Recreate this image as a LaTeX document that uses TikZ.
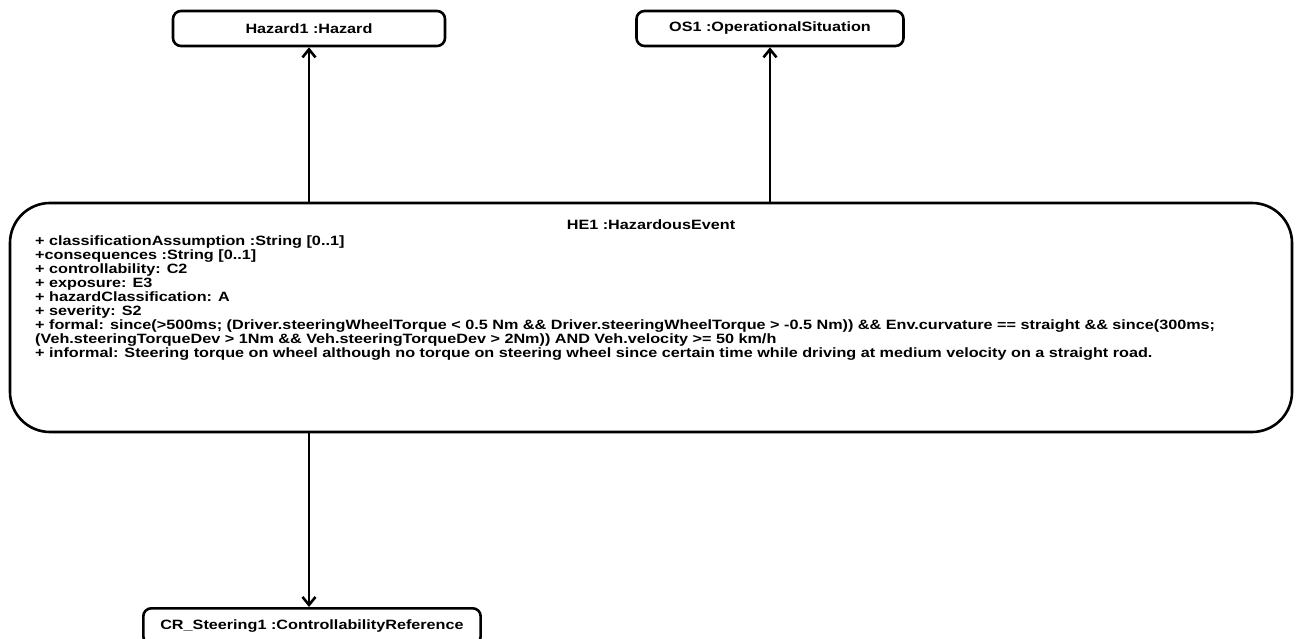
\documentclass[tikz,border=0pt]{standalone}
\usepackage{fontspec}
\setmainfont{Liberation Sans}[FakeStretch=1.2]
\usetikzlibrary{arrows.meta}
\begin{document}
\begin{tikzpicture}[x=1pt,y=-1pt,
  objbox/.style={draw=black,line width=2.6pt,rounded corners=8pt,fill=white,
    inner sep=0pt,font=\fontsize{13.5}{14}\selectfont\bfseries},
  link/.style={line width=2.6pt,-{Straight Barb[length=8pt,width=13pt,line width=2.6pt]}},
  attrs/.style={inner sep=0pt,align=left,anchor=north west,
    font=\fontsize{13.5}{14}\selectfont\bfseries}]
  \useasboundingbox (0,0) rectangle (1302,639);

  % object boxes
  \node[objbox,minimum width=272pt,minimum height=35pt] (haz) at (309,28.5) {Hazard1 :Hazard};
  \node[objbox,minimum width=267pt,minimum height=35pt] (os) at (770,28.5) {OS1 :OperationalSituation};
  \node[objbox,rounded corners=40pt,minimum width=1282pt,minimum height=229pt] (he) at (651,317.5) {};
  \node[objbox,minimum height=36pt,inner xsep=17pt,anchor=north west] (cr) at (142,607) {CR\_Steering1 :ControllabilityReference};

  % hazardous event contents
  \node[inner sep=0pt,font=\fontsize{13.5}{14}\selectfont\bfseries] (hetitle) at (651,225) {HE1 :HazardousEvent};
  \node[attrs] (heattrs) at (35,235.5) {%
    + classificationAssumption :String [0..1]\\
    +consequences :String [0..1]\\
    + controllability: C2\\
    + exposure: E3\\
    + hazardClassification: A\\
    + severity: S2\\
    + formal: since(>500ms; (Driver.steeringWheelTorque < 0.5 Nm \&\& Driver.steeringWheelTorque > -0.5 Nm)) \&\& Env.curvature == straight \&\& since(300ms;\\
    (Veh.steeringTorqueDev > 1Nm \&\& Veh.steeringTorqueDev > 2Nm)) AND Veh.velocity >= 50 km/h\\
    + informal: Steering torque on wheel although no torque on steering wheel since certain time while driving at medium velocity on a straight road.};

  % links
  \draw[link] (haz.south |- he.north) -- (haz.south);
  \draw[link] (os.south |- he.north) -- (os.south);
  \draw[link] (haz.south |- he.south) -- (haz.south |- cr.north);
\end{tikzpicture}
\end{document}
